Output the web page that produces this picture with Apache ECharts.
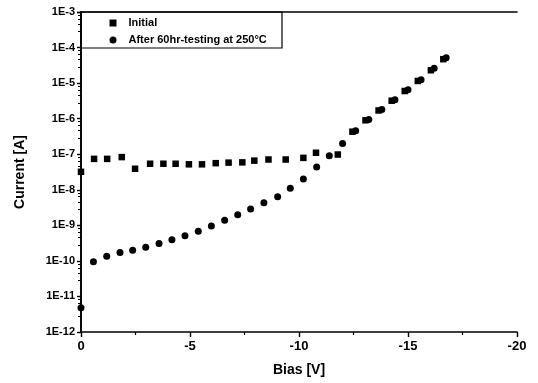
<!DOCTYPE html>
<html>
<head>
<meta charset="utf-8">
<script src="https://cdn.jsdelivr.net/npm/echarts@6/dist/echarts.min.js"></script>
<style>
html,body{margin:0;padding:0;background:#fff;}
#chart{width:538px;height:383px;}
</style>
</head>
<body>
<div id="chart"></div>
<script>
// ---- data ----
var seriesNames = ['Initial', 'After 60hr-testing at 250\u00B0C'];

var biasInitial = [0, -0.6, -1.2, -1.87, -2.48, -3.17, -3.78, -4.34, -4.95, -5.55, -6.18, -6.77, -7.4, -7.95, -8.6, -9.39, -10.2, -10.78, -11.78, -12.45, -13.05, -13.65, -14.25, -14.85, -15.45, -16.05, -16.62];
var currentInitial = [3.2e-8, 7.4e-8, 7.4e-8, 8.3e-8, 3.9e-8, 5.4e-8, 5.4e-8, 5.4e-8, 5.2e-8, 5.2e-8, 5.6e-8, 5.8e-8, 5.9e-8, 6.6e-8, 7.1e-8, 7.1e-8, 7.9e-8, 1.1e-7, 9.8e-8, 4.3e-7, 9.0e-7, 1.7e-6, 3.2e-6, 6.0e-6, 1.15e-5, 2.3e-5, 4.7e-5];

var biasAfter = [0, -0.57, -1.18, -1.79, -2.37, -2.97, -3.58, -4.17, -4.77, -5.38, -5.98, -6.59, -7.19, -7.78, -8.39, -9.02, -9.6, -10.2, -10.81, -11.39, -12.0, -12.6, -13.2, -13.8, -14.4, -15.0, -15.6, -16.2, -16.75];
var currentAfter = [4.8e-12, 9.5e-11, 1.35e-10, 1.73e-10, 2.0e-10, 2.4e-10, 3.1e-10, 3.9e-10, 5.1e-10, 6.8e-10, 9.6e-10, 1.4e-9, 2.0e-9, 2.9e-9, 4.3e-9, 6.4e-9, 1.1e-8, 2.0e-8, 4.4e-8, 9.1e-8, 2.0e-7, 4.6e-7, 9.4e-7, 1.8e-6, 3.4e-6, 6.5e-6, 1.25e-5, 2.6e-5, 5.2e-5];

var xTickValues = [0, -5, -10, -15, -20];
var yTickExponents = [-12, -11, -10, -9, -8, -7, -6, -5, -4, -3];

function pairs(xs, ys) {
  var out = [];
  for (var i = 0; i < xs.length; i++) out.push([xs[i], ys[i]]);
  return out;
}

var FONT = '"Liberation Sans", Arial, sans-serif';
var chart = echarts.init(document.getElementById('chart'), null, {renderer: 'canvas'});

var axisLineStyle = {color: '#000', width: 1.6};

chart.setOption({
  backgroundColor: '#fff',
  animation: false,
  textStyle: {fontFamily: FONT},
  grid: {left: 81, right: 21, top: 12, bottom: 51, containLabel: false},
  legend: {
    data: [
      {name: seriesNames[0], icon: 'rect'},
      {name: seriesNames[1], icon: 'circle'}
    ],
    orient: 'vertical',
    left: 109.5,
    top: 17,
    padding: 0,
    itemGap: 5,
    itemWidth: 7,
    itemHeight: 7,
    selectedMode: false,
    itemStyle: {opacity: 1},
    textStyle: {fontFamily: FONT, fontWeight: 'bold', fontSize: 11, lineHeight: 12, color: '#000', padding: [0, 0, 0, 7]}
  },
  graphic: [{
    type: 'rect',
    shape: {x: 81, y: 12, width: 201, height: 36},
    style: {fill: null, stroke: '#000', lineWidth: 1.2},
    z: 1
  }],
  xAxis: [{
    type: 'value',
    inverse: true,
    min: -20,
    max: 0,
    interval: 5,
    name: 'Bias [V]',
    nameLocation: 'middle',
    nameGap: 31,
    nameTextStyle: {fontFamily: FONT, fontWeight: 'bold', fontSize: 14, color: '#000'},
    axisLine: {show: true, onZero: false, lineStyle: axisLineStyle},
    axisTick: {show: true, inside: false, length: 5, lineStyle: {color: '#000', width: 1.4}},
    minorTick: {show: true, splitNumber: 2, length: 3, lineStyle: {color: '#000', width: 1.2}},
    axisLabel: {
      fontFamily: FONT, fontWeight: 'bold', fontSize: 13, color: '#000', margin: 8,
      formatter: function (v) { return xTickValues.indexOf(v) >= 0 ? String(v) : ''; }
    },
    splitLine: {show: false}
  }, {
    type: 'value',
    inverse: true,
    min: -20,
    max: 0,
    interval: 5,
    position: 'top',
    axisLine: {show: true, onZero: false, lineStyle: axisLineStyle},
    axisTick: {show: false},
    axisLabel: {show: false},
    splitLine: {show: false}
  }],
  yAxis: [{
    type: 'log',
    logBase: 10,
    min: 1e-12,
    max: 1e-3,
    name: 'Current [A]',
    nameLocation: 'middle',
    nameGap: 54,
    nameTextStyle: {fontFamily: FONT, fontWeight: 'bold', fontSize: 14, color: '#000'},
    axisLine: {show: true, lineStyle: axisLineStyle},
    axisTick: {show: true, inside: false, length: 4, lineStyle: {color: '#000', width: 1.4}},
    minorTick: {show: true, splitNumber: 5, length: 3, lineStyle: {color: '#000', width: 1}},
    axisLabel: {
      fontFamily: FONT, fontWeight: 'bold', fontSize: 11, color: '#000', margin: 6,
      formatter: function (v) { return '1E' + Math.round(Math.log(v) / Math.LN10); }
    },
    splitLine: {show: false}
  }, {
    type: 'log',
    logBase: 10,
    min: 1e-12,
    max: 1e-3,
    position: 'right',
    axisLine: {show: true, lineStyle: axisLineStyle},
    axisTick: {show: false},
    axisLabel: {show: false},
    splitLine: {show: false}
  }],
  series: [{
    name: seriesNames[0],
    type: 'scatter',
    xAxisIndex: 0,
    yAxisIndex: 0,
    symbol: 'rect',
    symbolSize: 6.5,
    clip: false,
    itemStyle: {color: '#000', opacity: 1},
    data: pairs(biasInitial, currentInitial),
    z: 3
  }, {
    name: seriesNames[1],
    type: 'scatter',
    xAxisIndex: 0,
    yAxisIndex: 0,
    symbol: 'circle',
    symbolSize: 7,
    clip: false,
    itemStyle: {color: '#000', opacity: 1},
    data: pairs(biasAfter, currentAfter),
    z: 3
  }]
});
</script>
</body>
</html>
